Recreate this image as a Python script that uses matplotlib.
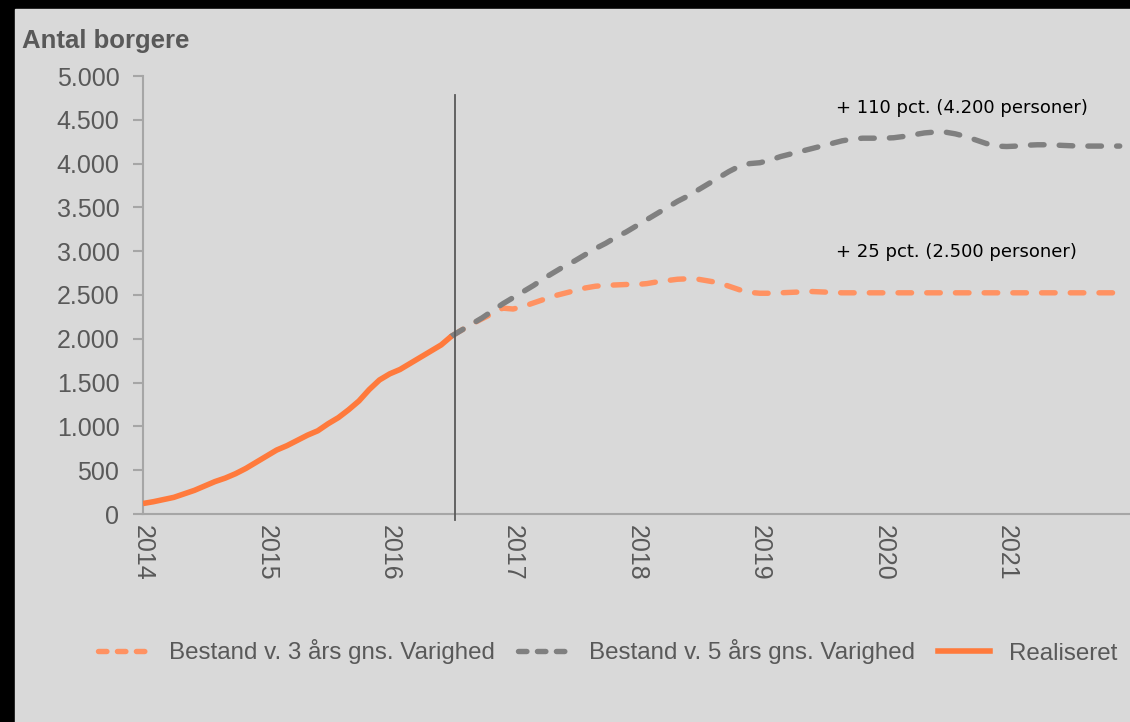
import matplotlib
matplotlib.use("Agg")
import matplotlib.pyplot as plt
from matplotlib.lines import Line2D
from matplotlib.patches import Rectangle
from matplotlib.ticker import FuncFormatter

plt.rcParams['font.family'] = ['Liberation Sans', 'DejaVu Sans']

# months since jan 2014
realiseret = [120, 140, 165, 190, 230, 270, 320, 370, 410, 460,
              520, 590, 660, 730, 780, 840, 900, 950, 1030, 1100,
              1190, 1290, 1420, 1530, 1600, 1650, 1720, 1790, 1860, 1930,
              2030]
start_proj = 30

bestand_3 = [2030, 2100, 2170, 2230, 2290, 2350, 2340, 2370, 2410, 2450,
             2490, 2520, 2550, 2580, 2600, 2610, 2615, 2620, 2620, 2630,
             2650, 2665, 2680, 2685, 2680, 2660, 2640, 2600, 2560, 2530,
             2520, 2520, 2525, 2530, 2535, 2540, 2535, 2530, 2525, 2525,
             2525, 2525, 2525, 2525, 2525, 2525, 2525, 2525, 2525, 2525,
             2525, 2525, 2525, 2525, 2525, 2525, 2525, 2525, 2525, 2525,
             2525, 2525, 2525, 2525, 2525, 2525]

bestand_5 = [2030, 2100, 2170, 2240, 2320, 2400, 2470, 2540, 2610, 2690,
             2760, 2830, 2890, 2960, 3030, 3090, 3160, 3220, 3290, 3360,
             3430, 3500, 3570, 3630, 3700, 3770, 3840, 3910, 3970, 4000,
             4010, 4040, 4080, 4110, 4140, 4170, 4200, 4230, 4260, 4280,
             4290, 4290, 4290, 4295, 4310, 4330, 4350, 4360, 4360, 4340,
             4310, 4270, 4230, 4200, 4195, 4200, 4210, 4215, 4215, 4210,
             4205, 4200, 4200, 4200, 4200, 4200]

aar = ['2014', '2015', '2016', '2017', '2018', '2019', '2020', '2021']

label_3 = 'Bestand v. 3 års gns. Varighed'
label_5 = 'Bestand v. 5 års gns. Varighed'
label_r = 'Realiseret'

orange = '#ff7a3c'
orange_lys = '#ff9262'
graa = '#808080'
tekst = '#595959'

fig = plt.figure(figsize=(11.3, 7.22), dpi=100, facecolor='black')
fig.patches.append(Rectangle((15 / 1130, 0), 1, (722 - 9) / 722,
                             transform=fig.transFigure, color='#d9d9d9',
                             zorder=-10))

ax = fig.add_axes([143 / 1130, 208 / 722, 1 - 143 / 1130, 438 / 722])
ax.set_facecolor('none')

x_real = list(range(len(realiseret)))
x_3 = list(range(start_proj, start_proj + len(bestand_3)))
x_5 = list(range(start_proj, start_proj + len(bestand_5)))

dash_kw = dict(linewidth=3.9, dashes=(2.5, 2.8), dash_capstyle='round')
ax.plot(x_3, bestand_3, color=orange_lys, zorder=3, **dash_kw)
ax.plot(x_5, bestand_5, color=graa, zorder=4, **dash_kw)
ax.plot(x_real, realiseret, color=orange, linewidth=4.0,
        solid_capstyle='butt', zorder=5)

ax.axvline(30.3, ymin=-0.014, ymax=0.957, color='#595959', linewidth=1.3,
           clip_on=False, zorder=6)

ax.set_xlim(0, 96)
ax.set_ylim(0, 5000)
ax.set_yticks(range(0, 5001, 500))
ax.yaxis.set_major_formatter(FuncFormatter(lambda v, p: f'{int(v):,}'.replace(',', '.')))
ax.set_xticks([12 * i for i in range(len(aar))])
ax.set_xticklabels(aar, rotation=-90, va='top', ha='center')

for s in ['top', 'right']:
    ax.spines[s].set_visible(False)
for s in ['left', 'bottom']:
    ax.spines[s].set_color('#a6a6a6')
    ax.spines[s].set_linewidth(1.5)
ax.tick_params(axis='y', length=7, width=1.5, color='#a6a6a6',
               labelsize=18, labelcolor=tekst, pad=10)
ax.tick_params(axis='x', length=0, labelsize=18, labelcolor=tekst, pad=8)

fig.text(22 / 1130, 1 - 41 / 722, 'Antal borgere', fontsize=18.5,
         fontweight='bold', color=tekst, va='center', ha='left')

ax.text(67.4, 4640, '+ 110 pct. (4.200 personer)', fontsize=13,
        family='DejaVu Sans', color='black', va='center', ha='left')
ax.text(67.4, 2990, '+ 25 pct. (2.500 personer)', fontsize=13,
        family='DejaVu Sans', color='black', va='center', ha='left')

leg_dash = dict(linewidth=3.9, dashes=(1.55, 1.95), dash_capstyle='round')
handles = [Line2D([], [], color=orange_lys, **leg_dash),
           Line2D([], [], color=graa, **leg_dash),
           Line2D([], [], color=orange, linewidth=4.0)]
leg = fig.legend(handles, [label_3, label_5, label_r], loc='center left',
                 bbox_to_anchor=(76 / 1130, 1 - 652 / 722), ncol=3,
                 frameon=False, fontsize=17.4, handlelength=2.15,
                 handletextpad=0.8, columnspacing=0.95)
for t in leg.get_texts():
    t.set_color(tekst)

fig.savefig('out.png', dpi=100, facecolor=fig.get_facecolor())
